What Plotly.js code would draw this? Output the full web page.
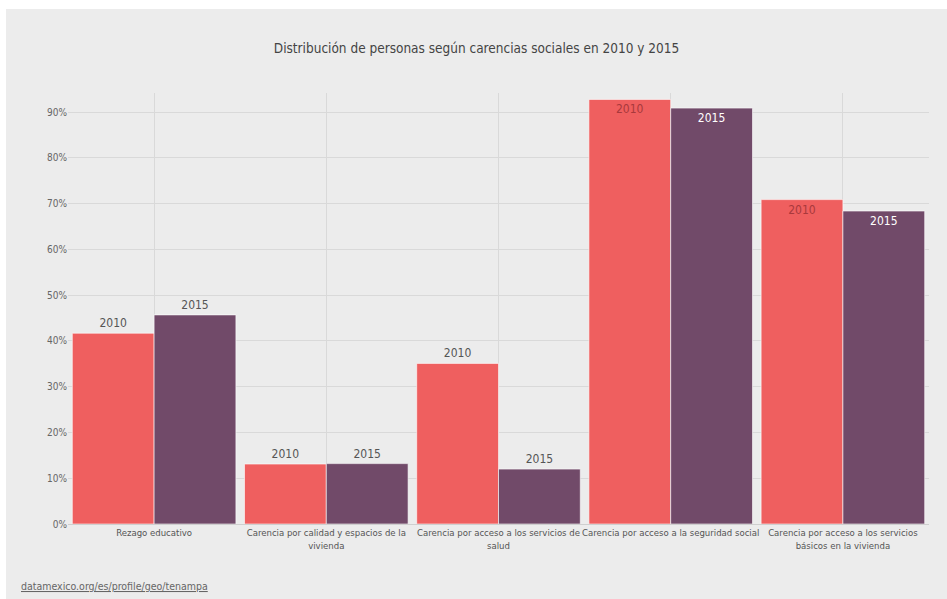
<!DOCTYPE html>
<html><head><meta charset="utf-8">
<script src="https://cdn.plot.ly/plotly-3.0.1.min.js"></script>
<style>html,body{margin:0;padding:0;background:#fff;}#chart{position:absolute;left:6px;top:9px;width:941px;height:590px;}</style>
</head><body><div id="chart"></div>
<script>
const categories = [
  "Rezago educativo",
  "Carencia por calidad y espacios de la<br>vivienda",
  "Carencia por acceso a los servicios de<br>salud",
  "Carencia por acceso a la seguridad social",
  "Carencia por acceso a los servicios<br>básicos en la vivienda"
];
const values2010 = [41.7, 13.1, 35.1, 92.8, 70.9];
const values2015 = [45.7, 13.2, 12.0, 90.9, 68.4];
const pos2010 = ["outside","outside","outside","inside","inside"];
const pos2015 = ["outside","outside","outside","inside","inside"];
const yTicks = [0,10,20,30,40,50,60,70,80,90];

const font = "'DejaVu Sans Condensed', 'Roboto', sans-serif";
const c2010 = "#ef5f5f", c2015 = "#714a69";

function trace(name, vals, color, pos, insideColor){
  return {
    type: "bar", name: name, x: categories, y: vals,
    marker: {color: color, line: {color: "rgba(255,255,255,0.6)", width: 1}},
    text: vals.map(() => name), textposition: pos,
    insidetextanchor: "end", cliponaxis: false,
    textfont: {family: font, size: 12, color: pos.map(p => p === "inside" ? insideColor : "#555")},
    hoverinfo: "y"
  };
}
const data = [
  trace("2010", values2010, c2010, pos2010, "#a8393c"),
  trace("2015", values2015, c2015, pos2015, "#ffffff")
];
const layout = {
  width: 941, height: 590,
  paper_bgcolor: "#ececec", plot_bgcolor: "#ececec",
  margin: {l: 62, r: 18, t: 84, b: 75},
  barmode: "group", bargap: 0.05, bargroupgap: 0,
  showlegend: false,
  font: {family: font, color: "#555"},
  title: {text: "Distribución de personas según carencias sociales en 2010 y 2015",
          font: {family: font, size: 13.5, color: "#444"}, x: 0.5, xanchor: "center", y: 0.934, yanchor: "middle"},
  xaxis: {showgrid: true, gridcolor: "#d9d9d9", showline: true, linecolor: "#cfcfcf", tickangle: 0,
          tickfont: {family: font, size: 9.5, color: "#555"}, ticks: "", automargin: false},
  yaxis: {range: [0, 94.2], tickvals: yTicks, ticktext: yTicks.map(v => v + "%"),
          showgrid: true, gridcolor: "#d9d9d9", zeroline: false,
          tickfont: {family: font, size: 10, color: "#666"}, ticks: "", automargin: false},
  annotations: [{text: "<u>datamexico.org/es/profile/geo/tenampa</u>", xref: "paper", yref: "paper",
                 x: -0.057, xanchor: "left", y: -0.145, yanchor: "middle", showarrow: false,
                 font: {family: font, size: 10.5, color: "#666"}}]
};
Plotly.newPlot("chart", data, layout, {displayModeBar: false, staticPlot: true});
</script></body></html>
